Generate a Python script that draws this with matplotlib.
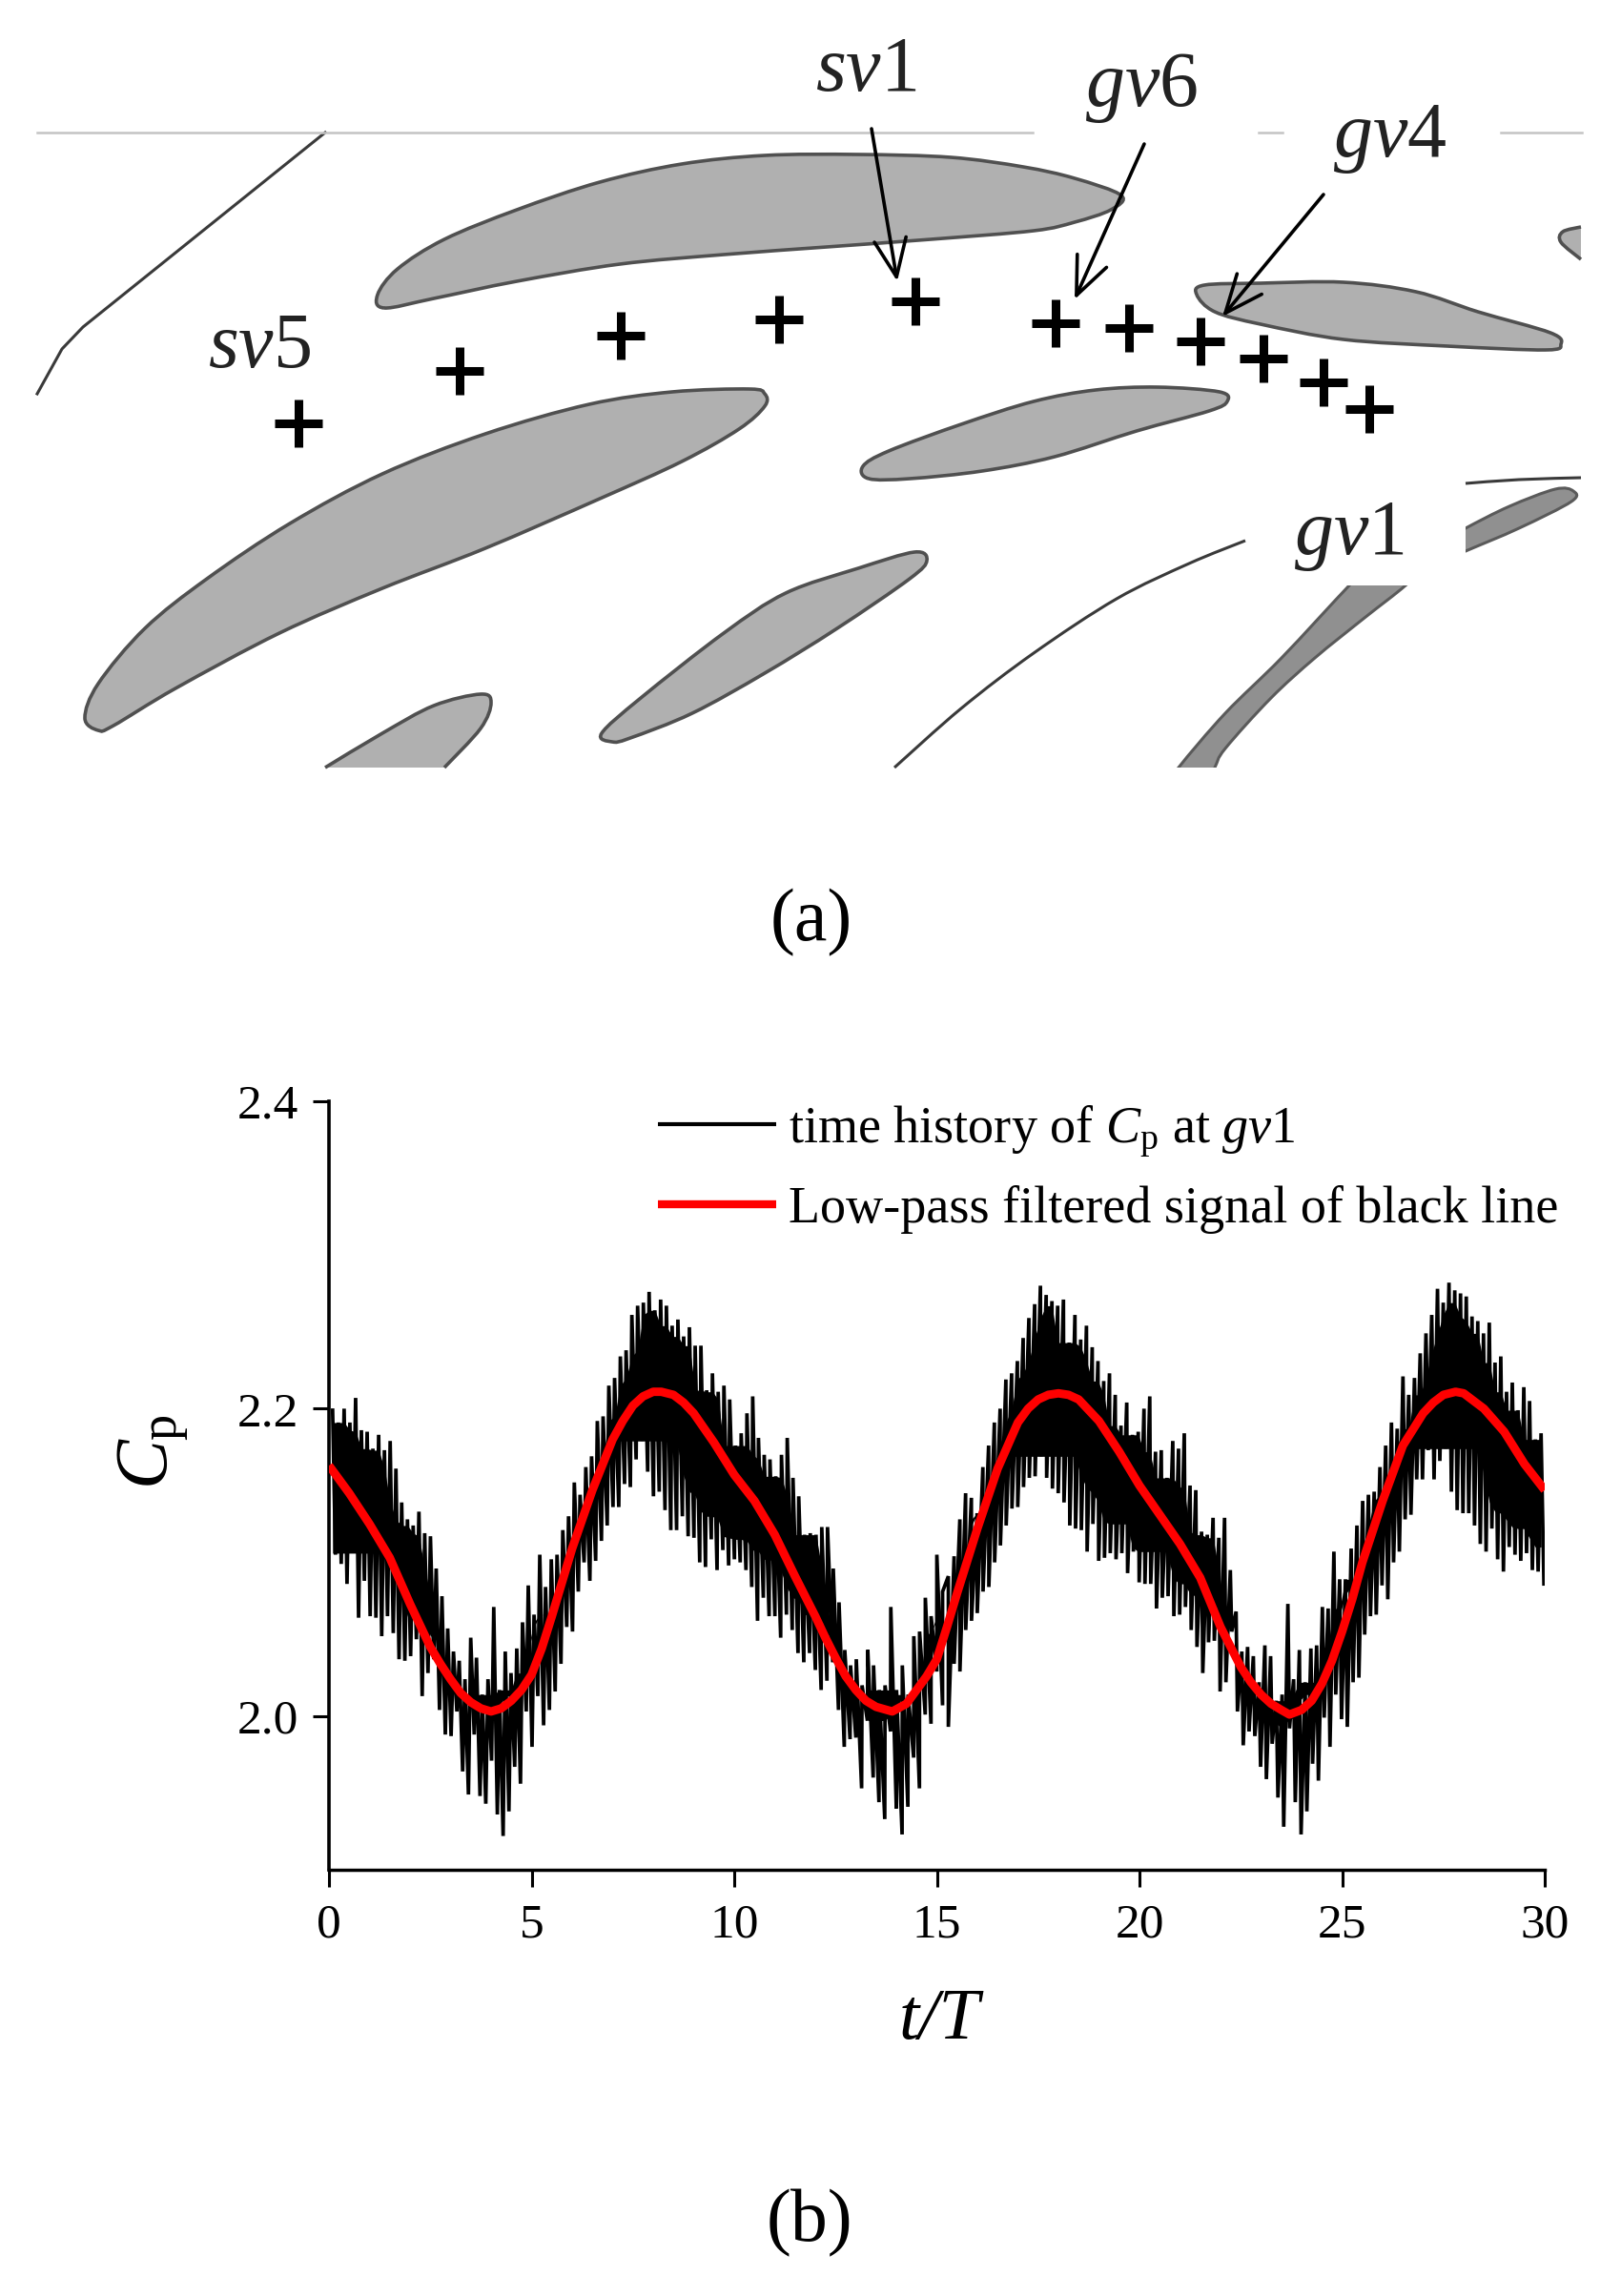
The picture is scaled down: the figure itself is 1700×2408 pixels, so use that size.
import numpy as np
import matplotlib
matplotlib.use("Agg")
import matplotlib.pyplot as plt
from matplotlib.patches import PathPatch, Rectangle
from matplotlib.path import Path

plt.rcParams['font.family'] = ['Liberation Serif', 'DejaVu Serif']
plt.rcParams['mathtext.fontset'] = 'custom'
plt.rcParams['mathtext.rm'] = 'Liberation Serif'
plt.rcParams['mathtext.it'] = 'Liberation Serif:italic'

# --- panel (b): values ---
cp_peaks = [
    2.199, 2.191, 2.200, 2.191, 2.207, 2.186, 2.185, 2.174, 2.183, 2.173, 2.179, 2.161, 2.139, 2.128, 2.124,
    2.133, 2.119, 2.117, 2.096, 2.078, 2.057, 2.042, 2.036, 2.024, 2.051, 2.038, 2.014, 2.024, 2.071, 2.017,
    2.042, 2.028, 2.044, 2.061, 2.085, 2.066, 2.105, 2.084, 2.102, 2.105, 2.121, 2.130, 2.152, 2.144,
    2.162, 2.169, 2.192, 2.195, 2.215, 2.220, 2.234, 2.238, 2.261, 2.267, 2.269, 2.276, 2.264, 2.271, 2.267,
    2.254, 2.258, 2.247, 2.253, 2.241, 2.241, 2.212, 2.223, 2.211, 2.215, 2.206, 2.176, 2.184, 2.197, 2.208,
    2.181, 2.170, 2.167, 2.156, 2.170, 2.181, 2.155, 2.143, 2.118, 2.119, 2.118, 2.123,
    2.123, 2.096, 2.074, 2.043, 2.033, 2.037, 2.020, 2.043, 2.033, 2.017, 2.020, 2.071, 2.017, 2.033, 2.014,
    2.052, 2.055, 2.077, 2.065, 2.105, 2.081, 2.091, 2.104, 2.128, 2.145, 2.142, 2.132, 2.162, 2.176, 2.191,
    2.200, 2.219, 2.223, 2.231, 2.246,
    2.259, 2.268, 2.280, 2.274, 2.270, 2.267,
    2.271, 2.243, 2.261, 2.245, 2.254, 2.240, 2.231, 2.218, 2.223, 2.209, 2.189, 2.204, 2.183, 2.185, 2.200,
    2.208, 2.172, 2.173, 2.155, 2.179, 2.174, 2.184, 2.150, 2.147, 2.120, 2.118, 2.129, 2.116, 2.129, 2.095,
    2.068, 2.042, 2.045, 2.039, 2.022, 2.046, 2.039, 2.010, 2.014, 2.073, 2.024, 2.043, 2.022, 2.044, 2.046,
    2.071,
    2.070, 2.107, 2.089, 2.089, 2.109, 2.124, 2.140, 2.144, 2.146, 2.162, 2.176, 2.191, 2.187, 2.221, 2.209,
    2.220, 2.236, 2.249, 2.261, 2.278, 2.269, 2.282, 2.277, 2.275, 2.273, 2.260, 2.257, 2.249, 2.256, 2.230,
    2.234, 2.211, 2.217, 2.199, 2.214, 2.205, 2.180, 2.184,
]
cp_troughs = [
    2.105, 2.099, 2.086, 2.106, 2.064, 2.088, 2.065, 2.064, 2.052, 2.065, 2.054, 2.037, 2.036, 2.039, 2.050,
    2.013, 2.028, 2.037, 2.004, 1.988, 1.987, 2.003, 1.964, 1.949, 1.988, 1.948, 1.943, 1.971, 1.936, 1.922,
    1.938, 1.967, 1.956, 2.003, 1.980, 2.013, 1.994, 2.004, 2.016, 2.034, 2.058, 2.055, 2.081,
    2.100, 2.088, 2.101, 2.114, 2.124, 2.136, 2.136, 2.151, 2.149, 2.167, 2.179, 2.159, 2.143, 2.146, 2.134,
    2.121, 2.121, 2.130, 2.117, 2.116, 2.100, 2.097, 2.115, 2.095, 2.108, 2.098, 2.102, 2.100, 2.095, 2.084,
    2.062, 2.077, 2.065, 2.065, 2.051, 2.066, 2.056, 2.041, 2.035, 2.041, 2.030, 2.017,
    2.023, 2.035, 2.004, 1.980, 1.985, 1.986, 1.953, 1.997, 1.960, 1.944, 1.933, 1.990, 1.940, 1.923, 1.941,
    1.973, 1.953, 2.001, 1.995, 2.029, 2.007, 1.993, 2.034, 2.029, 2.056, 2.062, 2.067, 2.081, 2.084, 2.100,
    2.111, 2.124, 2.135, 2.136, 2.149, 2.155, 2.156, 2.169, 2.155, 2.148, 2.145, 2.139,
    2.124, 2.122, 2.121, 2.107, 2.125, 2.101, 2.103, 2.106, 2.102, 2.106, 2.093, 2.107, 2.087, 2.086, 2.086,
    2.070, 2.077, 2.078, 2.065, 2.066, 2.071, 2.056, 2.045, 2.028, 2.048, 2.049, 2.016, 2.022, 2.055, 2.003,
    1.981, 1.990, 1.987, 1.967, 1.959, 1.982, 1.947, 1.928, 1.992, 1.944, 1.923, 1.938, 1.969, 1.958, 1.999,
    1.980, 2.014, 1.998, 1.993, 2.022, 2.025, 2.053, 2.065, 2.066, 2.085, 2.076, 2.100, 2.107, 2.128, 2.131,
    2.154, 2.154, 2.173, 2.154, 2.166, 2.174, 2.146, 2.134, 2.132, 2.132, 2.124, 2.112, 2.107, 2.122, 2.102,
    2.094, 2.110, 2.105, 2.101, 2.106, 2.095, 2.094, 2.086,
]
filt_t = [0, 0.5, 1, 1.5, 2, 2.5, 2.75, 3, 3.25, 3.5, 3.75, 4, 4.25, 4.5, 4.75, 5, 5.25, 5.5, 5.75, 6, 6.5, 7,
          7.25, 7.5, 7.75, 8, 8.2, 8.5, 8.75, 9, 9.5, 10, 10.5, 11, 11.5, 12, 12.25, 12.5, 12.75, 13, 13.25, 13.5,
          13.9, 14.25, 14.5, 14.75, 15, 15.25, 15.5, 16, 16.5, 17, 17.25, 17.5, 17.75, 18, 18.25, 18.5, 19, 19.5,
          20, 20.5, 21, 21.5, 22, 22.5, 22.75, 23, 23.25, 23.5, 23.7, 24, 24.25, 24.5, 24.75, 25, 25.25, 25.5,
          26, 26.5, 27, 27.25, 27.5, 27.8, 28, 28.5, 29, 29.5, 30]
filt_cp = [2.163, 2.145, 2.125, 2.103, 2.073, 2.045, 2.034, 2.024, 2.015, 2.009, 2.005, 2.003, 2.005, 2.010, 2.017,
           2.027, 2.044, 2.065, 2.087, 2.109, 2.147, 2.180, 2.192, 2.202, 2.208, 2.211, 2.211, 2.209, 2.204, 2.197,
           2.178, 2.157, 2.140, 2.118, 2.091, 2.065, 2.051, 2.038, 2.026, 2.017, 2.010, 2.006, 2.003, 2.008, 2.017,
           2.026, 2.037, 2.058, 2.080, 2.122, 2.161, 2.191, 2.200, 2.206, 2.209, 2.210, 2.209, 2.206, 2.192, 2.172,
           2.150, 2.131, 2.112, 2.090, 2.058, 2.032, 2.022, 2.014, 2.008, 2.004, 2.001, 2.004, 2.010, 2.021, 2.036,
           2.055, 2.076, 2.100, 2.140, 2.176, 2.197, 2.204, 2.209, 2.211, 2.210, 2.200, 2.185, 2.164, 2.147]
x_ticks = [0, 5, 10, 15, 20, 25, 30]
y_ticks = [2.0, 2.2, 2.4]
y_tick_labels = ['2.0', '2.2', '2.4']

# --- panel (a): outlines and probe points, in picture pixels ---
blades = [
    [(403, 323), (396, 309), (417, 282), (466, 251), (542, 220), (629, 191), (715, 172), (802, 163), (900, 162),
     (997, 165), (1073, 175), (1127, 187), (1176, 205), (1165, 220), (1127, 233), (1084, 242), (976, 251),
     (867, 259), (759, 267), (650, 277), (542, 295), (455, 313)],
    [(1255, 309), (1263, 299), (1322, 297), (1409, 296), (1485, 306), (1550, 327), (1626, 349), (1637, 361),
     (1621, 367), (1518, 363), (1409, 356), (1322, 340), (1274, 327)],
    [(103, 766), (89, 753), (103, 717), (152, 659), (217, 607), (304, 549), (401, 497), (509, 455), (618, 424),
     (705, 411), (786, 408), (802, 413), (802, 426), (775, 450), (715, 484), (629, 523), (509, 575), (401, 617),
     (293, 664), (184, 722), (119, 761)],
    [(911, 502), (905, 489), (932, 473), (1008, 445), (1084, 421), (1149, 409), (1214, 406), (1279, 411),
     (1287, 421), (1268, 431), (1192, 452), (1106, 479), (1030, 494), (954, 502)],
    [(642, 778), (631, 769), (672, 732), (759, 664), (824, 622), (900, 596), (959, 579), (972, 588), (954, 607),
     (878, 659), (802, 706), (726, 748), (661, 774)],
]
open_blades = [
    [(1658, 238), (1639, 243), (1637, 254), (1658, 272)],
    [(341, 805), (401, 769), (455, 740), (504, 728), (515, 737), (504, 764), (466, 805)],
]
# these two run past the white label box and the crop, clip_boxes cuts them flat
dark_blades = [
    [(1220, 830), (1236, 805), (1285, 748), (1344, 690), (1415, 614), (1440, 590), (1497, 590), (1474, 614),
     (1431, 648), (1379, 690), (1333, 732), (1285, 785), (1274, 805), (1262, 830)],
    [(1510, 570), (1537, 554), (1583, 531), (1631, 513), (1650, 515), (1648, 526), (1593, 554), (1537, 578),
     (1510, 590)],
]
clip_boxes = [(1200, 614, 300, 191), (1537, 500, 130, 100)]
corner_line = [(341, 139), (87, 343), (65, 366), (39, 413)]
curved_lines = [
    [(938, 805), (1008, 743), (1084, 685), (1171, 628), (1247, 591), (1306, 567)],
    [(1537, 507), (1593, 503), (1658, 501)],
]
wall_segments = [(39, 1083), (1320, 1345), (1574, 1659)]
probe_x = [313, 482, 651, 817, 960, 1107, 1184, 1259, 1325, 1388, 1436]
probe_y = [444, 389, 352, 335, 316, 339, 344, 358, 376, 401, 429]
arrows = [((914, 135), (941, 295)), ((1200, 151), (1127, 314)), ((1388, 204), (1282, 332))]
labels = [('sv', '1', 908, 95), ('gv', '6', 1197, 111), ('gv', '4', 1458, 164), ('sv', '5', 272, 385),
          ('gv', '1', 1415, 581)]


def smooth_path(pts, closed=True):
    # Catmull-Rom through the outline points, so the blades are not faceted
    p = np.array(pts, dtype=float)
    n = len(p)
    verts = [p[0]]
    codes = [Path.MOVETO]
    for i in range(n if closed else n - 1):
        if closed:
            p0, p1, p2, p3 = p[(i - 1) % n], p[i], p[(i + 1) % n], p[(i + 2) % n]
        else:
            p0, p1, p2, p3 = p[max(i - 1, 0)], p[i], p[i + 1], p[min(i + 2, n - 1)]
        verts += [p1 + (p2 - p0) / 6, p2 - (p3 - p1) / 6, p2]
        codes += [Path.CURVE4] * 3
    return Path(verts, codes)


def rolling(values, func, half=2):
    # running min or max over the neighbouring spikes
    v = np.array(values)
    return np.array([func(v[max(i - half, 0):i + half + 1]) for i in range(len(v))])


fig = plt.figure(figsize=(17, 24.08), dpi=100, facecolor='white')

# full page layer in pixels, holds the schematic and the free text
page = fig.add_axes([0, 0, 1, 1])
page.set_xlim(0, 1700)
page.set_ylim(2408, 0)
page.axis('off')

grey = '#b0b0b0'
edge = '#505050'
for pts in blades:
    page.add_patch(PathPatch(smooth_path(pts), fc=grey, ec=edge, lw=2.6))
for pts in open_blades:
    page.add_patch(PathPatch(smooth_path(pts, closed=False), fc=grey, ec=edge, lw=2.6))
for pts, (bx, by, bw, bh) in zip(dark_blades, clip_boxes):
    patch = page.add_patch(PathPatch(smooth_path(pts), fc='#909090', ec='#5a5a5a', lw=2.2))
    patch.set_clip_path(Rectangle((bx, by), bw, bh, transform=page.transData))
page.plot([p[0] for p in corner_line], [p[1] for p in corner_line], color='#3a3a3a', lw=2.2)
for pts in curved_lines:
    page.add_patch(PathPatch(smooth_path(pts, closed=False), fill=False, ec='#3a3a3a', lw=2.2))
for x0, x1 in wall_segments:
    page.plot([x0, x1], [139, 139], color='#c4c4c4', lw=1.8)

page.plot(probe_x, probe_y, ls='none', marker='+', ms=36, mew=6.5, color='black')

for start, end in arrows:
    page.annotate('', xy=end, xytext=start,
                  arrowprops=dict(arrowstyle='->,head_length=1.3,head_width=0.55', color='black',
                                  lw=2.6, mutation_scale=22, shrinkA=0, shrinkB=0))
for name, digit, x, y in labels:
    page.text(x, y, r'$\mathit{%s}$%s' % (name, digit), fontsize=59, ha='center', va='baseline', color='#222222')

page.text(851, 968, '(a)', fontsize=56, ha='center', va='center')
page.text(849, 2332, '(b)', fontsize=56, ha='center', va='center')

# legend drawn by hand, it sits partly past the data
page.plot([690, 814], [1179, 1179], color='black', lw=3, solid_capstyle='butt')
page.plot([690, 814], [1263, 1263], color='red', lw=6, solid_capstyle='butt')
page.text(827, 1198, r'time history of $\mathit{C}_{\mathrm{p}}$ at $\mathit{gv}$1', fontsize=39, va='baseline')
page.text(827, 1282, 'Low-pass filtered signal of black line', fontsize=39, va='baseline')

page.text(985, 2138, 't/T', fontsize=55, style='italic', ha='center', va='baseline')
page.text(161, 1523, r'$\mathit{C}_{\mathrm{p}}$', fontsize=56, rotation=90, ha='center', va='center')

# panel (b)
ax = fig.add_axes([345 / 1700, 1 - 1961 / 2408, 1275 / 1700, (1961 - 1155) / 2408])
ax.patch.set_alpha(0)

peak_t = np.linspace(0.09, 29.91, len(cp_peaks))
trough_t = np.linspace(0.16, 29.98, len(cp_troughs))
t_all = np.concatenate([peak_t, trough_t])
cp_all = np.array(cp_peaks + cp_troughs)
order = np.argsort(t_all)
ax.plot(t_all[order], cp_all[order], color='black', lw=2.7, solid_joinstyle='miter', zorder=2)
# the signal is solid between the spikes, only the tips stand free
upper_solid = rolling(cp_peaks, min, 2)
lower_solid = np.interp(peak_t, trough_t, rolling(cp_troughs, max, 6))
ax.fill_between(peak_t, upper_solid, np.minimum(upper_solid, lower_solid), color='black', lw=0, zorder=2)
ax.plot(filt_t, filt_cp, color='red', lw=6.4, solid_capstyle='butt', solid_joinstyle='round', zorder=3)

ax.set_xlim(0, 30)
ax.set_ylim(1.9, 2.4)
ax.set_xticks(x_ticks)
ax.set_yticks(y_ticks)
ax.set_yticklabels(y_tick_labels)
ax.spines['top'].set_visible(False)
ax.spines['right'].set_visible(False)
ax.spines['left'].set_linewidth(2.6)
ax.spines['bottom'].set_linewidth(2.5)
ax.tick_params(axis='x', length=13, width=2.2, labelsize=37, pad=12)
ax.tick_params(axis='y', length=12, width=2.2, labelsize=37, pad=11)

fig.savefig('out.png', dpi=100)
